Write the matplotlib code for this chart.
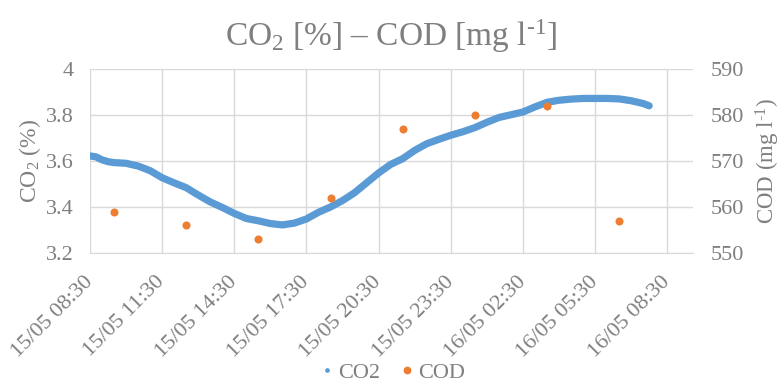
import matplotlib
matplotlib.use("Agg")
import matplotlib.pyplot as plt
from matplotlib.lines import Line2D
import pandas as pd

plt.rcParams["font.family"] = ["Liberation Serif", "DejaVu Serif"]
plt.rcParams["mathtext.fontset"] = "custom"
plt.rcParams["mathtext.rm"] = "Liberation Serif"
plt.rcParams["mathtext.it"] = "Liberation Serif:italic"

START = pd.Timestamp("2021-05-15 08:30")

# CO2 logger readings: hours after 15/05 08:30 and concentration (%)
co2_hours = [0.0, 0.25, 0.5, 0.75, 1.0, 1.5, 2.0, 2.5, 3.0, 3.5, 4.0, 4.5,
             5.0, 5.5, 6.0, 6.5, 7.0, 7.5, 8.0, 8.5, 9.0, 9.5, 10.0, 10.5,
             11.0, 11.5, 12.0, 12.5, 13.0, 13.5, 14.0, 14.5, 15.0, 15.5,
             16.0, 16.5, 17.0, 17.5, 18.0, 18.5, 19.0, 19.5, 20.0, 20.5,
             21.0, 21.5, 22.0, 22.5, 23.0, 23.25]
co2_values = [3.622, 3.618, 3.605, 3.597, 3.593, 3.590, 3.578, 3.558, 3.527,
              3.505, 3.484, 3.452, 3.422, 3.398, 3.372, 3.350, 3.340, 3.328,
              3.322, 3.330, 3.348, 3.377, 3.400, 3.428, 3.462, 3.505, 3.548,
              3.585, 3.610, 3.646, 3.675, 3.694, 3.712, 3.727, 3.745, 3.768,
              3.789, 3.801, 3.813, 3.835, 3.855, 3.864, 3.869, 3.872, 3.872,
              3.872, 3.870, 3.862, 3.850, 3.840]

# COD grab samples: hours after 15/05 08:30 and COD (mg/l)
cod_hours = [1, 4, 7, 10, 13, 16, 19, 22]
cod_values = [559, 556, 553, 562, 577, 580, 582, 557]

tick_hours = [0, 3, 6, 9, 12, 15, 18, 21, 24]
tick_labels = ["15/05 08:30", "15/05 11:30", "15/05 14:30", "15/05 17:30",
               "15/05 20:30", "15/05 23:30", "16/05 02:30", "16/05 05:30",
               "16/05 08:30"]

co2_times = [START + pd.Timedelta(hours=h) for h in co2_hours]
cod_times = [START + pd.Timedelta(hours=h) for h in cod_hours]
tick_times = [START + pd.Timedelta(hours=h) for h in tick_hours]

BLUE = "#5B9BD5"
ORANGE = "#ED7D31"
TEXT = "#7F7F7F"
GRID = "#D9D9D9"

fig = plt.figure(figsize=(7.82, 3.82), dpi=100)
ax = fig.add_axes([0.1151, 0.3377, 0.7710, 0.4817])
ax2 = ax.twinx()

ax.plot(co2_times, co2_values, color=BLUE, lw=5.2, solid_capstyle="round", zorder=3)
ax2.plot(cod_times, cod_values, "o", color=ORANGE, ms=5.8, mew=0, zorder=4)

ax.set_xlim(START, START + pd.Timedelta(hours=25.07))
ax.set_ylim(3.2, 4.0)
ax.set_yticks([3.2, 3.4, 3.6, 3.8, 4.0])
ax.set_yticklabels(["3.2", "3.4", "3.6", "3.8", "4"])
ax2.set_ylim(550, 590)
ax2.set_yticks([550, 560, 570, 580, 590])

ax.set_xticks(tick_times)
ax.set_xticklabels(tick_labels, rotation=45, ha="right", va="center",
                   rotation_mode="anchor")

ax.grid(True, color=GRID, lw=1.0)
ax.set_axisbelow(True)
for a in (ax, ax2):
    for s in a.spines.values():
        s.set_visible(False)
    a.tick_params(length=0, colors=TEXT, labelsize=16)
ax.tick_params(axis="y", pad=12)
ax2.tick_params(axis="y", pad=13)
ax.tick_params(axis="x", pad=19)
ax.spines["bottom"].set_visible(True)
ax.spines["bottom"].set_color(GRID)

ax.set_ylabel("CO$_2$ (%)", color=TEXT, fontsize=17, labelpad=2)
ax2.set_ylabel(r"COD (mg l$^{\text{-}1}$)", color=TEXT, fontsize=16.5, labelpad=7)

fig.suptitle(r"CO$_2$ [%] – COD [mg l$^{\text{-}1}$]", color=TEXT, fontsize=24,
             y=0.955)

handles = [Line2D([], [], ls="none", marker="o", color=BLUE, ms=3.4, mew=0),
           Line2D([], [], ls="none", marker="o", color=ORANGE, ms=5.6, mew=0)]
fig.legend(handles, ["CO2", "COD"], loc="center", bbox_to_anchor=(0.5, 0.025),
           ncol=2, frameon=False, fontsize=16, labelcolor=TEXT,
           handletextpad=0.05, columnspacing=0.8, handlelength=0.9)

fig.savefig("out.png", dpi=100)
